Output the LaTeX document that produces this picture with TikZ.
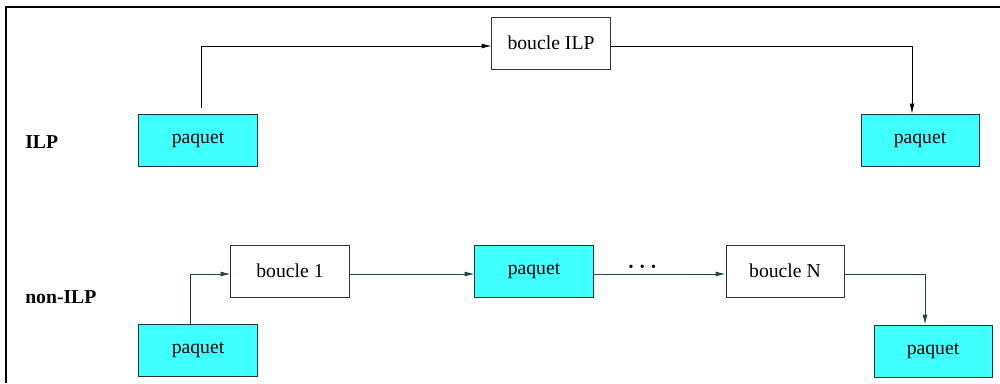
\documentclass[tikz,border=0pt]{standalone}
\usepackage{fontspec}
\setmainfont{Liberation Serif}
\usetikzlibrary{arrows.meta,shadows}
\definecolor{pktfill}{HTML}{40FFFF}
\definecolor{edgedark}{HTML}{1E3838}
\definecolor{lineteal}{HTML}{1F4646}
\tikzset{
  pktBox/.style={draw=edgedark, fill=pktfill, line width=0.7pt, inner sep=0pt,
    minimum width=2.95cm, minimum height=1.3cm, font=\fontsize{14}{17}\selectfont,
    drop shadow={shadow xshift=0.7pt, shadow yshift=-0.7pt, fill=black!45, opacity=1}},
  loopBox/.style={pktBox, fill=white, draw=black!80},
  rowLbl/.style={anchor=west, inner sep=0pt, font=\fontsize{14}{17}\selectfont\bfseries},
  flow/.style={draw=black, line width=0.6pt, -{Latex[length=7pt,width=3.5pt]}},
  flowLow/.style={flow, draw=lineteal},
  frameLine/.style={draw=black, line width=1.8pt},
}

\begin{document}
\begin{tikzpicture}[x=0.025cm, y=-0.025cm]
  \useasboundingbox (0,0) rectangle (1000,383);
  \draw[frameLine] (1000,7) -- (6,7) -- (6,383);

  % ILP row
  \node[rowLbl] (lblILP) at (25,142) {ILP};
  \node[pktBox]  (pktInA)  at (198,140) {paquet};
  \node[loopBox] (loopILP) at (551,43)  {boucle ILP};
  \node[pktBox]  (pktOutA) at (920,140) {paquet};

  \draw[flow] ([xshift=0.075cm, yshift=0.15cm]pktInA.north) |- ([yshift=-0.075cm]loopILP.west);
  \draw[flow] ([yshift=-0.075cm]loopILP.east) -| ([xshift=-0.2cm]pktOutA.north);

  % non-ILP row
  \node[rowLbl] (lblNon) at (25,297) {non-ILP};
  \node[pktBox]  (pktInB)  at (198,350) {paquet};
  \node[loopBox] (loopOne) at (290,271) {boucle 1};
  \node[pktBox]  (pktMid)  at (534,271) {paquet};
  \node[loopBox] (loopN)   at (785,271) {boucle N};
  \node[pktBox]  (pktOutB) at (933,351) {paquet};

  \draw[flowLow] ([xshift=-0.2cm]pktInB.north) |- ([yshift=-0.075cm]loopOne.west);
  \draw[flowLow] ([yshift=-0.075cm]loopOne.east) -- ([yshift=-0.075cm]pktMid.west);
  \draw[flowLow] ([yshift=-0.075cm]pktMid.east) -- ([yshift=-0.075cm]loopN.west)
    node[pos=0.37, anchor=base, yshift=0.075cm, inner sep=0pt,
         font=\fontsize{10}{12}\selectfont] (dots)
    {\textbullet\hspace{4.5pt}\textbullet\hspace{4.5pt}\textbullet};
  \draw[flowLow] ([yshift=-0.075cm]loopN.east) -| ([xshift=-0.2cm]pktOutB.north);
\end{tikzpicture}
\end{document}
